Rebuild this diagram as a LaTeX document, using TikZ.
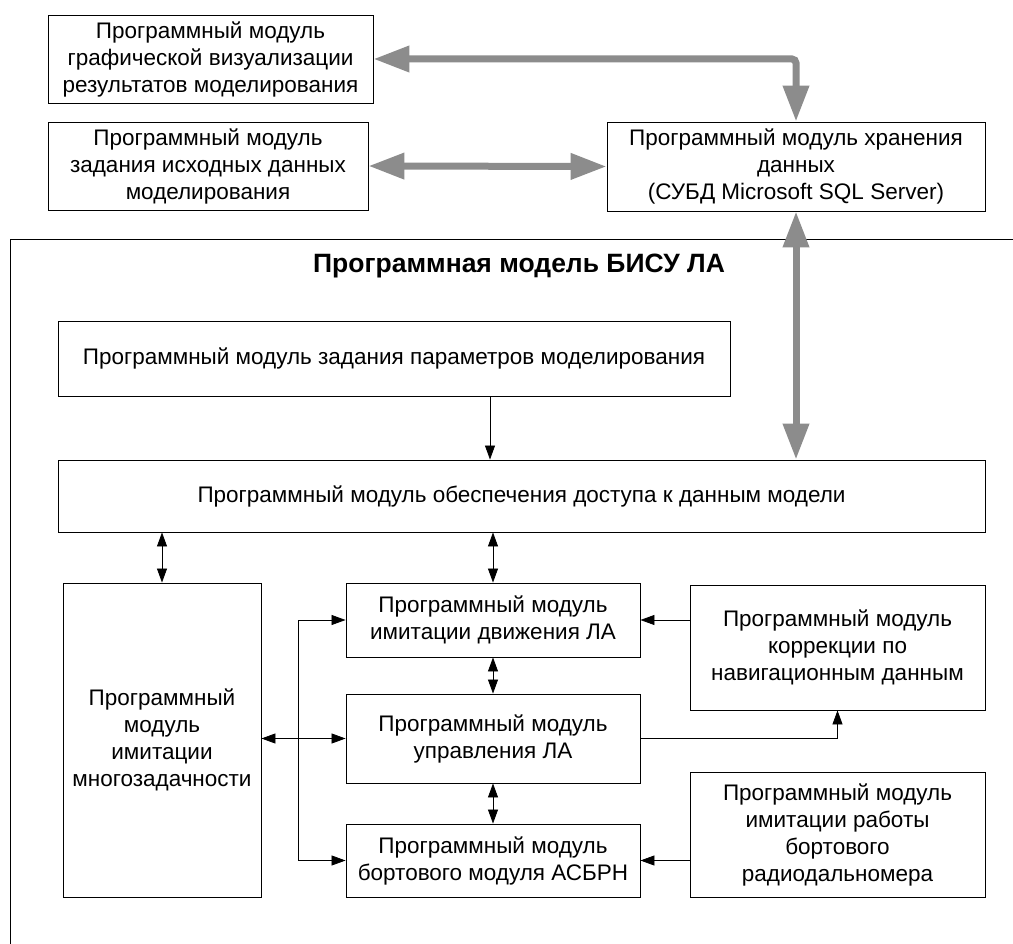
\documentclass[tikz,border=0pt]{standalone}
\usepackage{fontspec}
\setmainfont{Liberation Sans}
\usetikzlibrary{arrows.meta}
\definecolor{thickgray}{RGB}{140,140,140}
\tikzset{
  box/.style={draw=black, line width=0.9pt, inner sep=0pt, align=center,
    font=\fontsize{22.5}{27}\selectfont},
  garrow/.style={draw=thickgray, line width=7pt,
    {Triangle[length=36pt,width=25pt]}-{Triangle[length=36pt,width=25pt]}},
  tarrow/.style={draw=black, line width=0.8pt, -{Triangle[length=14pt,width=10pt]}},
  tboth/.style={draw=black, line width=0.8pt, {Triangle[length=14pt,width=10pt]}-{Triangle[length=14pt,width=10pt]}},
  tline/.style={draw=black, line width=0.8pt},
}
\begin{document}
\begin{tikzpicture}[x=1pt,y=-1pt]
\useasboundingbox[fill=white] (0,0) rectangle (1013,944);
% frame
\coordinate (fr1) at (1013,239);
\coordinate (fr2) at (10,239);
\coordinate (fr3) at (10,944);
\draw[line width=0.9pt] (fr1) -- (fr2) -- (fr3);
\node[font=\bfseries\fontsize{26.5}{30}\selectfont] (title) at (519,266) {Программная модель БИСУ ЛА};
% top boxes
\node[box, minimum width=325pt, minimum height=88pt] (A) at (210.5,59)
  {Программный модуль\\графической визуализации\\результатов моделирования};
\node[box, minimum width=320pt, minimum height=88pt] (B) at (208,166)
  {Программный модуль\\задания исходных данных\\моделирования};
\node[box, minimum width=378pt, minimum height=89pt] (C) at (796,166.5)
  {Программный модуль хранения\\данных\\(СУБД Microsoft SQL Server)};
% inner boxes
\node[box, minimum width=672pt, minimum height=75pt] (D) at (394,358.5)
  {Программный модуль задания параметров моделирования};
\node[box, minimum width=927pt, minimum height=72pt] (E) at (521.5,496)
  {Программный модуль обеспечения доступа к данным модели};
\node[box, minimum width=198pt, minimum height=314pt] (F) at (162,740)
  {Программный\\модуль\\имитации\\многозадачности};
\node[box, minimum width=294pt, minimum height=74pt] (G) at (493,620)
  {Программный модуль\\имитации движения ЛА};
\node[box, minimum width=294pt, minimum height=89pt] (H) at (493,738.5)
  {Программный модуль\\управления ЛА};
\node[box, minimum width=294pt, minimum height=73pt] (I) at (493,860.5)
  {Программный модуль\\бортового модуля АСБРН};
\node[box, minimum width=295pt, minimum height=125pt] (J) at (837.5,647.5)
  {Программный модуль\\коррекции по\\навигационным данным};
\node[box, minimum width=295pt, minimum height=125pt] (K) at (837.5,834.5)
  {Программный модуль\\имитации работы\\бортового\\радиодальномера};
% gray arrows
\draw[garrow, rounded corners=4pt] (A.east) -| (C.north);
\draw[garrow] (B.east) -- (C.west);
\draw[garrow] (C.south) -- (C.south |- E.north);
% thin arrows
\draw[tarrow] (490,0 |- D.south) -- (490,0 |- E.north);
\draw[tboth] (F.north |- E.south) -- (F.north);
\draw[tboth] (G.north |- E.south) -- (G.north);
\draw[tboth] (G.south) -- (H.north);
\draw[tboth] (H.south) -- (I.north);
\draw[tboth] (F.east |- H.west) -- (H.west);
\coordinate (jn) at (298,0 |- H.west);
\draw[tarrow] (jn) |- (G.west);
\draw[tarrow] (jn) |- (I.west);
\draw[tarrow] (G.east -| J.west) -- (G.east);
\draw[tarrow] (H.east) -| (J.south);
\draw[tarrow] (I.east -| K.west) -- (I.east);
\end{tikzpicture}
\end{document}
